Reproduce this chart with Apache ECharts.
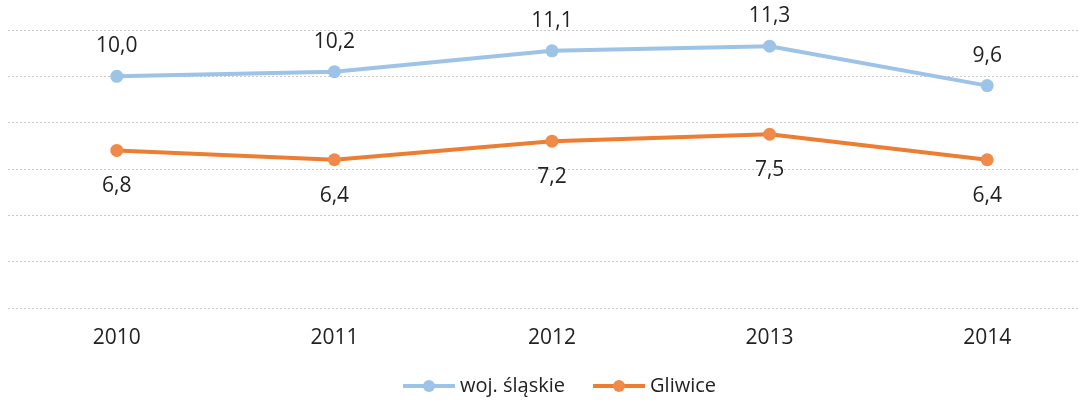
<!DOCTYPE html>
<html>
<head>
<meta charset="utf-8">
<script src="https://cdn.jsdelivr.net/npm/echarts@6/dist/echarts.min.js"></script>
<style>
  html, body { margin: 0; padding: 0; background: #fff; }
  #chart { width: 1078px; height: 401px; }
</style>
</head>
<body>
<div id="chart"></div>
<script>
const years = ['2010', '2011', '2012', '2013', '2014']
const slaskie = [10.0, 10.2, 11.1, 11.3, 9.6]
const gliwice = [6.8, 6.4, 7.2, 7.5, 6.4]

const fmt = p => p.value.toFixed(1).replace('.', ',')
const font = '"Open Sans", "DejaVu Sans", sans-serif'

const chart = echarts.init(document.getElementById('chart'))

chart.setOption({
  backgroundColor: '#fff',
  animation: false,
  textStyle: { fontFamily: font },
  grid: { left: 8, top: 30, width: 1088, height: 278, outerBoundsMode: 'none' },
  legend: {
    left: 396,
    top: 371,
    itemWidth: 52,
    itemHeight: 15,
    itemGap: 26,
    lineStyle: { width: 4 },
    textStyle: { fontSize: 20, color: '#222', fontFamily: font },
    data: ['woj. śląskie', 'Gliwice']
  },
  xAxis: {
    type: 'category',
    data: years,
    boundaryGap: true,
    axisLine: { show: false },
    axisTick: { show: false },
    axisLabel: { fontSize: 21, color: '#222', margin: 20 }
  },
  yAxis: {
    type: 'value',
    min: 0,
    max: 12,
    interval: 2,
    axisLabel: { show: false },
    axisLine: { show: false },
    axisTick: { show: false },
    splitLine: { lineStyle: { color: '#c8c8c8', type: [2, 2], width: 1 } }
  },
  series: [
    {
      name: 'woj. śląskie',
      type: 'line',
      data: slaskie,
      symbol: 'circle',
      symbolSize: 13,
      lineStyle: { color: '#9dc3e6', width: 4 },
      itemStyle: { color: '#9dc3e6' },
      label: { show: true, position: 'top', distance: 13, fontSize: 21, color: '#222', formatter: fmt }
    },
    {
      name: 'Gliwice',
      type: 'line',
      data: gliwice,
      symbol: 'circle',
      symbolSize: 13,
      lineStyle: { color: '#ed7d31', width: 4 },
      itemStyle: { color: '#f08a4b' },
      label: { show: true, position: 'bottom', distance: 19, fontSize: 21, color: '#222', formatter: fmt }
    }
  ]
})
</script>
</body>
</html>
